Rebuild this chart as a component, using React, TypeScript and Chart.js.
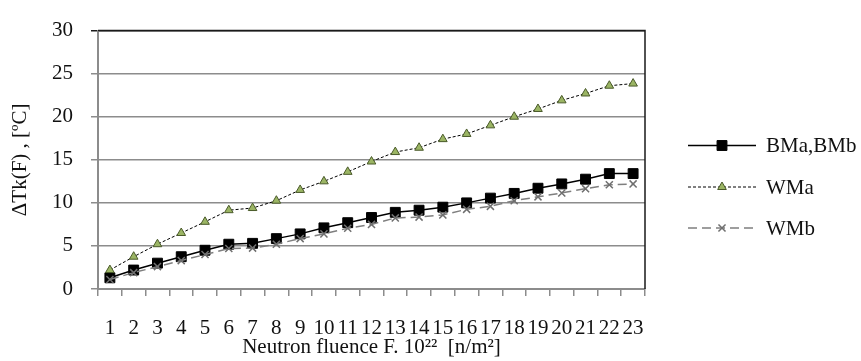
import React, { useEffect, useRef } from "react";
import { Chart, registerables } from "chart.js";
import { drawPoint } from "chart.js/helpers";

Chart.register(...registerables);

const categories = ["1","2","3","4","5","6","7","8","9","10","11","12","13","14","15","16","17","18","19","20","21","22","23"];
const bmValues = [1.3, 2.2, 3.0, 3.75, 4.5, 5.2, 5.3, 5.85, 6.4, 7.1, 7.7, 8.3, 8.9, 9.15, 9.5, 10.0, 10.55, 11.1, 11.7, 12.2, 12.75, 13.4, 13.4];
const wmaValues = [2.2, 3.75, 5.2, 6.5, 7.8, 9.15, 9.4, 10.25, 11.5, 12.5, 13.6, 14.8, 15.9, 16.4, 17.4, 18.0, 19.0, 20.0, 20.9, 21.9, 22.7, 23.6, 23.85];
const wmbValues = [1.1, 1.9, 2.6, 3.3, 4.0, 4.7, 4.75, 5.2, 5.85, 6.4, 7.05, 7.5, 8.25, 8.35, 8.6, 9.25, 9.6, 10.25, 10.7, 11.15, 11.65, 12.1, 12.2];
const seriesNames = ["BMa,BMb", "WMa", "WMb"];
const yTitle = "ΔTk(F) , [ºC]";
const xTitle = "Neutron fluence F. 10²²  [n/m²]";

const FONT = "'Liberation Serif', 'Times New Roman', serif";

const frameAndLegend = {
  id: "frameAndLegend",
  afterDraw(chart: any) {
    const { ctx, chartArea } = chart;
    ctx.save();
    ctx.strokeStyle = "#1a1a1a";
    ctx.lineWidth = 1.5;
    ctx.beginPath();
    ctx.moveTo(chartArea.left, chartArea.top);
    ctx.lineTo(chartArea.right, chartArea.top);
    ctx.lineTo(chartArea.right, chartArea.bottom);
    ctx.stroke();

    const lineX0 = 688;
    const lineX1 = 756;
    const textX = 766;
    const rowY = [145.5, 187, 228];
    chart.data.datasets.forEach((ds: any, i: number) => {
      const y = rowY[i];
      ctx.save();
      ctx.strokeStyle = ds.borderColor;
      ctx.lineWidth = ds.borderWidth;
      ctx.setLineDash(ds.borderDash || []);
      ctx.beginPath();
      ctx.moveTo(lineX0, y);
      ctx.lineTo(lineX1, y);
      ctx.stroke();
      ctx.restore();
      ctx.save();
      ctx.fillStyle = ds.pointBackgroundColor;
      ctx.strokeStyle = ds.pointBorderColor;
      ctx.lineWidth = ds.pointBorderWidth;
      drawPoint(ctx, { pointStyle: ds.pointStyle, rotation: 0, radius: ds.pointRadius, borderWidth: ds.pointBorderWidth }, (lineX0 + lineX1) / 2, y);
      ctx.restore();
      ctx.fillStyle = "#111";
      ctx.font = `21px ${FONT}`;
      ctx.textBaseline = "middle";
      ctx.textAlign = "left";
      ctx.fillText(ds.label, textX, y + 1);
    });
    ctx.restore();
  },
};

export default function App() {
  const ref = useRef<HTMLCanvasElement | null>(null);
  useEffect(() => {
    if (!ref.current) return;
    const chart = new Chart(ref.current, {
      type: "line",
      data: {
        labels: categories,
        datasets: [
          {
            label: seriesNames[0],
            data: bmValues,
            borderColor: "#000000",
            borderWidth: 1.5,
            pointStyle: "rect",
            pointRadius: 7,
            pointBackgroundColor: "#000000",
            pointBorderColor: "#000000",
            pointBorderWidth: 1,
            tension: 0,
            order: 3,
          },
          {
            label: seriesNames[1],
            data: wmaValues,
            borderColor: "#000000",
            borderWidth: 1,
            borderDash: [3, 2],
            pointStyle: "triangle",
            pointRadius: 5,
            pointBackgroundColor: "#9bb564",
            pointBorderColor: "#4a5a2a",
            pointBorderWidth: 1,
            tension: 0,
            order: 2,
          },
          {
            label: seriesNames[2],
            data: wmbValues,
            borderColor: "#7f7f7f",
            borderWidth: 1.5,
            borderDash: [9, 5],
            pointStyle: "crossRot",
            pointRadius: 5,
            pointBackgroundColor: "#7f7f7f",
            pointBorderColor: "#6f6f6f",
            pointBorderWidth: 1.5,
            tension: 0,
            order: 1,
          },
        ],
      },
      options: {
        animation: false,
        responsive: false,
        maintainAspectRatio: false,
        layout: { padding: { top: 17, right: 216, left: 0, bottom: 0 } },
        plugins: {
          legend: { display: false },
          tooltip: { enabled: false },
        },
        scales: {
          x: {
            type: "category",
            offset: true,
            afterFit: (s: any) => { s.height = 72; },
            grid: {
              offset: true,
              drawOnChartArea: false,
              drawTicks: true,
              tickLength: 7,
              color: "#8c8c8c",
              lineWidth: 1.5,
            },
            border: { color: "#8c8c8c", width: 2 },
            ticks: {
              autoSkip: false,
              maxRotation: 0,
              minRotation: 0,
              padding: 20,
              color: "#111",
              font: { family: FONT, size: 21 },
            },
            title: {
              display: true,
              text: xTitle,
              color: "#111",
              font: { family: FONT, size: 21 },
              padding: { top: 0, bottom: 1 },
            },
          },
          y: {
            min: 0,
            max: 30,
            afterFit: (s: any) => { s.width = 98; },
            grid: {
              color: (c: any) => (c.tick && c.tick.value === 30 ? "#1a1a1a" : "#8c8c8c"),
              lineWidth: 1.5,
              tickLength: 7,
            },
            border: { color: "#8c8c8c", width: 2 },
            ticks: {
              stepSize: 5,
              padding: 18,
              color: "#111",
              font: { family: FONT, size: 21 },
            },
            title: {
              display: true,
              text: yTitle,
              color: "#111",
              font: { family: FONT, size: 21 },
              padding: { top: 8, bottom: 0 },
            },
          },
        },
      },
      plugins: [frameAndLegend],
    });
    return () => chart.destroy();
  }, []);
  return (
    <div style={{ position: "fixed", left: 0, top: 0, width: 861, height: 361, background: "#fff" }}>
      <canvas ref={ref} width={861} height={361} style={{ width: 861, height: 361 }} />
    </div>
  );
}
